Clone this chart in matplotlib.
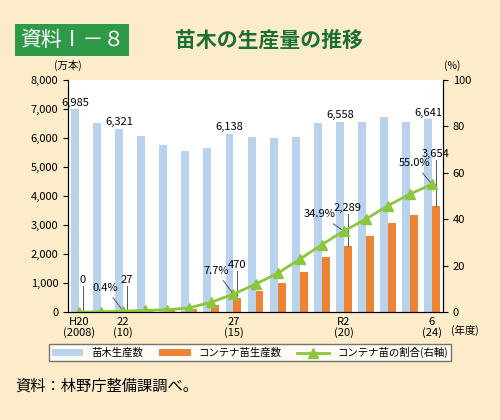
import matplotlib.pyplot as plt
import numpy as np

plt.rcParams['font.family'] = ['Noto Sans CJK JP', 'DejaVu Sans']

years = list(range(2008, 2025))
seedlings = [6985, 6500, 6321, 6070, 5760, 5560, 5640, 6138, 6020, 5990, 6040, 6500, 6558, 6540, 6710, 6550, 6641]
container = [0, 1, 27, 40, 60, 100, 240, 470, 720, 1000, 1370, 1890, 2289, 2620, 3070, 3330, 3654]
ratio = [0, 0.1, 0.4, 0.7, 1.0, 1.8, 4.3, 7.7, 12.0, 16.7, 22.7, 29.0, 34.9, 40.0, 45.8, 50.8, 55.0]
tick_pos = [0, 2, 7, 12, 16]
tick_labels = ['H20\n(2008)', '22\n(10)', '27\n(15)', 'R2\n(20)', '6\n(24)']

bg = '#fdecc9'
c_blue = '#b9d3ee'
c_orange = '#ec8434'
c_green = '#8cc63f'

fig = plt.figure(figsize=(5, 4.2), dpi=100, facecolor=bg)
ax = fig.add_axes([0.136, 0.257, 0.75, 0.553])
ax2 = ax.twinx()
x = np.arange(len(years))
w = 0.36
ax.bar(x - w / 2, seedlings, w, color=c_blue, label='苗木生産数')
ax.bar(x + w / 2, container, w, color=c_orange, label='コンテナ苗生産数')
ax2.plot(x, ratio, color=c_green, marker='^', markersize=7, lw=2, label='コンテナ苗の割合(右軸)')
ax.set_xlim(-0.5, 16.5)
ax.set_ylim(0, 8000)
ax2.set_ylim(0, 100)
ax.set_yticks(range(0, 8001, 1000))
ax.set_yticklabels([f'{v:,}' for v in range(0, 8001, 1000)], fontsize=8)
ax2.set_yticks(range(0, 101, 20))
ax2.tick_params(labelsize=8)
ax.set_xticks(tick_pos)
ax.set_xticklabels(tick_labels, fontsize=8, linespacing=1.0)
ax.tick_params(axis='x', length=0)
for a in (ax, ax2):
    a.spines['top'].set_visible(False)
ax.set_zorder(ax2.get_zorder() - 1)
ax2.patch.set_visible(False)
ax.set_facecolor('white')

fs = 8
for i in [0, 2, 7, 12, 16]:
    ax.text(x[i] - w / 2, seedlings[i] + 60, f'{seedlings[i]:,}', ha='center', va='bottom', fontsize=fs)
# container labels with leader lines
for i, yl in [(0, 900), (2, 900), (7, 1420), (12, 3370), (16, 5230)]:
    ax.plot([x[i] + w / 2] * 2, [container[i], yl], color='#555555', lw=0.7)
    ax.text(x[i] + w / 2, yl + 30, f'{container[i]:,}', ha='center', va='bottom', fontsize=fs)
for i, (dx, dy) in [(2, (-0.8, 8)), (7, (-0.8, 8)), (12, (-1.1, 5)), (16, (-0.8, 7))]:
    ax2.annotate(f'{ratio[i]}%', xy=(x[i], ratio[i]), xytext=(x[i] + dx, ratio[i] + dy),
                 ha='center', va='bottom', fontsize=fs,
                 arrowprops=dict(arrowstyle='-', color='#555555', lw=0.7))

fig.text(0.135, 0.835, '(万本)', fontsize=7.5, ha='center')
fig.text(0.905, 0.835, '(%)', fontsize=7.5, ha='center')
fig.text(0.93, 0.205, '(年度)', fontsize=7.5, ha='center')

h1, l1 = ax.get_legend_handles_labels()
h2, l2 = ax2.get_legend_handles_labels()
fig.legend(h1 + h2, l1 + l2, loc='center', bbox_to_anchor=(0.5, 0.16), ncol=3, fontsize=7.5,
           frameon=True, fancybox=False, edgecolor='#555555', facecolor='white',
           handlelength=3, columnspacing=1.5, borderpad=0.3)

fig.text(0.04, 0.905, '資料Ⅰ－８', fontsize=15, color='white', va='center',
         bbox=dict(boxstyle='square,pad=0.25', facecolor='#2e9a48', edgecolor='none'))
fig.text(0.35, 0.905, '苗木の生産量の推移', fontsize=15, color='#1d6e34', va='center', weight='bold')
fig.text(0.03, 0.08, '資料：林野庁整備課調べ。', fontsize=11, va='center')

fig.savefig('out.png', dpi=100, facecolor=bg)
